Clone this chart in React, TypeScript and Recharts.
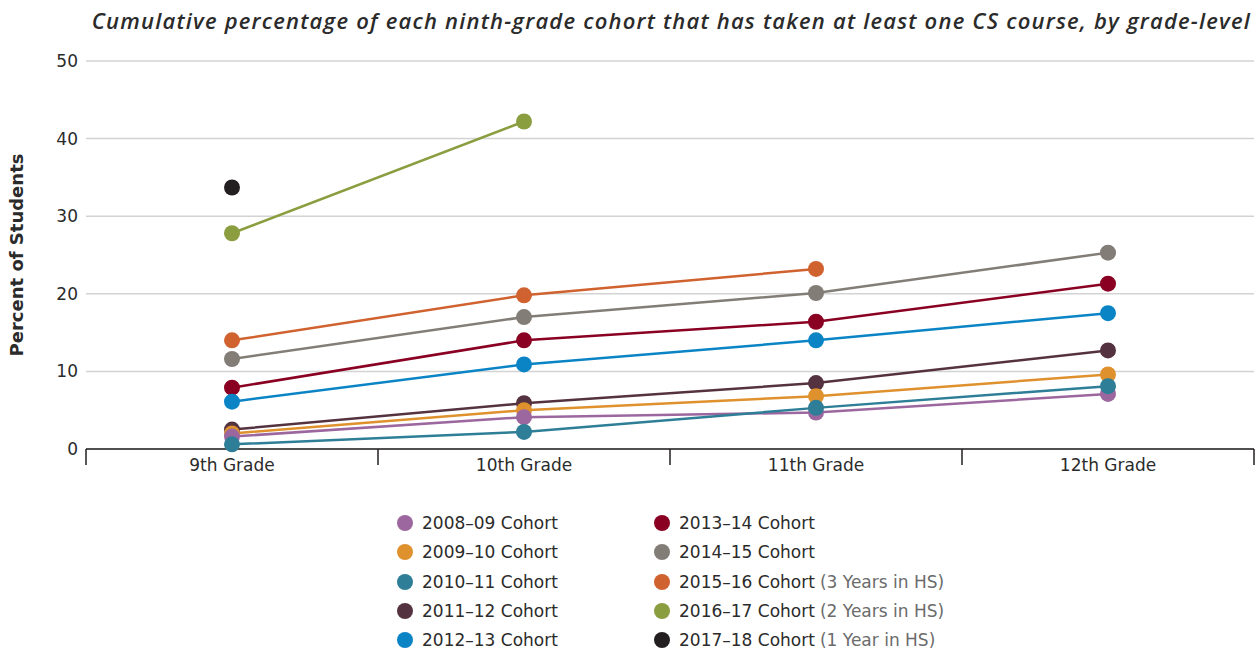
import React from 'react';
import { LineChart, Line, XAxis, YAxis, CartesianGrid } from 'recharts';

const title = 'Cumulative percentage of each ninth-grade cohort that has taken at least one CS course, by grade-level';
const yAxisTitle = 'Percent of Students';

const grades = ['9th Grade', '10th Grade', '11th Grade', '12th Grade'];
const gradePositions = [0.5, 1.5, 2.5, 3.5];
const xBoundaryTicks = [0, 1, 2, 3, 4];
const yTicks = [0, 10, 20, 30, 40, 50];

const cohortNames = [
  '2008–09 Cohort',
  '2009–10 Cohort',
  '2010–11 Cohort',
  '2011–12 Cohort',
  '2012–13 Cohort',
  '2013–14 Cohort',
  '2014–15 Cohort',
  '2015–16 Cohort',
  '2016–17 Cohort',
  '2017–18 Cohort',
];
const cohortNotes = ['', '', '', '', '', '', '', '(3 Years in HS)', '(2 Years in HS)', '(1 Year in HS)'];
const cohortColors = [
  '#9c679f',
  '#df912d',
  '#2d7e96',
  '#55323f',
  '#0b84c6',
  '#8a0022',
  '#837d77',
  '#d0622f',
  '#8a9d3f',
  '#231f20',
];

const cohort2008_09 = [1.6, 4.1, 4.7, 7.1];
const cohort2009_10 = [2.0, 5.0, 6.8, 9.6];
const cohort2010_11 = [0.6, 2.2, 5.3, 8.1];
const cohort2011_12 = [2.5, 5.9, 8.5, 12.7];
const cohort2012_13 = [6.1, 10.9, 14.0, 17.5];
const cohort2013_14 = [7.9, 14.0, 16.4, 21.3];
const cohort2014_15 = [11.6, 17.0, 20.1, 25.3];
const cohort2015_16 = [14.0, 19.8, 23.2, null];
const cohort2016_17 = [27.8, 42.2, null, null];
const cohort2017_18 = [33.7, null, null, null];

const seriesValues = [
  cohort2008_09,
  cohort2009_10,
  cohort2010_11,
  cohort2011_12,
  cohort2012_13,
  cohort2013_14,
  cohort2014_15,
  cohort2015_16,
  cohort2016_17,
  cohort2017_18,
];

// drawing order (later drawn on top)
const drawOrder = [9, 8, 7, 6, 5, 4, 3, 1, 0, 2];

const data = grades.map((g, i) => {
  const row: any = { grade: g, pos: gradePositions[i] };
  seriesValues.forEach((vals, s) => {
    row['s' + s] = vals[i];
  });
  return row;
});

const W = 1260;
const H = 652;
const PLOT_LEFT = 86;
const PLOT_RIGHT = 1254;
const PLOT_TOP = 61;
const PLOT_BOTTOM = 449;
const X_AXIS_H = 30;
const FONT = '"DejaVu Sans", sans-serif';
const TEXT = '#2b2b2b';

const halfBand = (PLOT_RIGHT - PLOT_LEFT) / (xBoundaryTicks.length - 1) / 2;

const GradeTick = (props: any) => {
  const { x, y, payload } = props;
  const idx = Math.round(payload.value);
  if (idx < 0 || idx >= grades.length) return null;
  return (
    <text
      x={x + halfBand}
      y={y - 2}
      dy="0.35em"
      textAnchor="middle"
      fill={TEXT}
      fontSize={17}
      fontFamily={FONT}
    >
      {grades[idx]}
    </text>
  );
};

const YLabel = (props: any) => {
  const vb = props.viewBox || { x: 0, y: PLOT_TOP, width: PLOT_LEFT, height: PLOT_BOTTOM - PLOT_TOP };
  const cx = 17;
  const cy = vb.y + vb.height / 2;
  return (
    <text
      x={cx}
      y={cy}
      dy="0.35em"
      textAnchor="middle"
      transform={`rotate(-90, ${cx}, ${cy})`}
      fill={TEXT}
      fontSize={18}
      fontWeight={700}
      fontFamily={FONT}
    >
      {yAxisTitle}
    </text>
  );
};

const LegendBlock = () => {
  const rowsPerCol = 5;
  return (
    <div style={{ position: 'absolute', left: 0, top: 0, width: W, height: H, pointerEvents: 'none' }}>
      {cohortNames.map((name, i) => {
        const col = Math.floor(i / rowsPerCol);
        const row = i % rowsPerCol;
        const cx = 405 + col * 257;
        const cy = 523 + row * 29.3;
        return (
          <div
            key={name}
            style={{
              position: 'absolute',
              left: cx - 8,
              top: cy - 12,
              height: 24,
              display: 'flex',
              alignItems: 'center',
              whiteSpace: 'nowrap',
              fontFamily: FONT,
              fontSize: 17,
              color: TEXT,
            }}
          >
            <span
              style={{
                display: 'inline-block',
                width: 16,
                height: 16,
                borderRadius: 8,
                background: cohortColors[i],
                marginRight: 9,
              }}
            />
            <span>{name}</span>
            {cohortNotes[i] ? (
              <span style={{ color: '#6b6b6b', marginLeft: 5 }}>{cohortNotes[i]}</span>
            ) : null}
          </div>
        );
      })}
    </div>
  );
};

export default function App() {
  return (
    <div style={{ position: 'absolute', left: 0, top: 0, width: W, height: H, background: '#fff' }}>
      <div
        style={{
          position: 'absolute',
          left: 0,
          top: 7,
          width: 1251,
          textAlign: 'right',
          fontFamily: '"Open Sans", sans-serif',
          fontStyle: 'italic',
          fontWeight: 600,
          fontSize: 22,
          letterSpacing: 1.2,
          lineHeight: '26px',
          color: '#2b2b2b',
          whiteSpace: 'nowrap',
        }}
      >
        {title}
      </div>
      <LineChart
        width={W}
        height={H}
        data={data}
        margin={{ top: PLOT_TOP, right: W - PLOT_RIGHT, bottom: H - PLOT_BOTTOM - X_AXIS_H, left: 0 }}
      >
        <CartesianGrid vertical={false} stroke="#d3d3d3" strokeWidth={1.5} />
        <XAxis
          dataKey="pos"
          type="number"
          domain={[0, 4]}
          ticks={xBoundaryTicks}
          interval={0}
          height={X_AXIS_H}
          tickSize={16}
          tickMargin={2}
          axisLine={{ stroke: '#231f20', strokeWidth: 1.5 }}
          tickLine={{ stroke: '#231f20', strokeWidth: 1.5 }}
          tick={<GradeTick />}
        />
        <YAxis
          type="number"
          domain={[0, 50]}
          ticks={yTicks}
          interval={0}
          width={PLOT_LEFT}
          axisLine={false}
          tickLine={false}
          tick={{ fill: TEXT, fontSize: 17, fontFamily: FONT }}
          label={<YLabel />}
        />
        {drawOrder.map((s) => (
          <Line
            key={s}
            type="linear"
            dataKey={'s' + s}
            name={cohortNames[s]}
            stroke={cohortColors[s]}
            strokeWidth={2.5}
            dot={{ r: 8, fill: cohortColors[s], stroke: cohortColors[s], strokeWidth: 0 }}
            activeDot={false}
            connectNulls={false}
            isAnimationActive={false}
          />
        ))}
      </LineChart>
      <LegendBlock />
    </div>
  );
}
